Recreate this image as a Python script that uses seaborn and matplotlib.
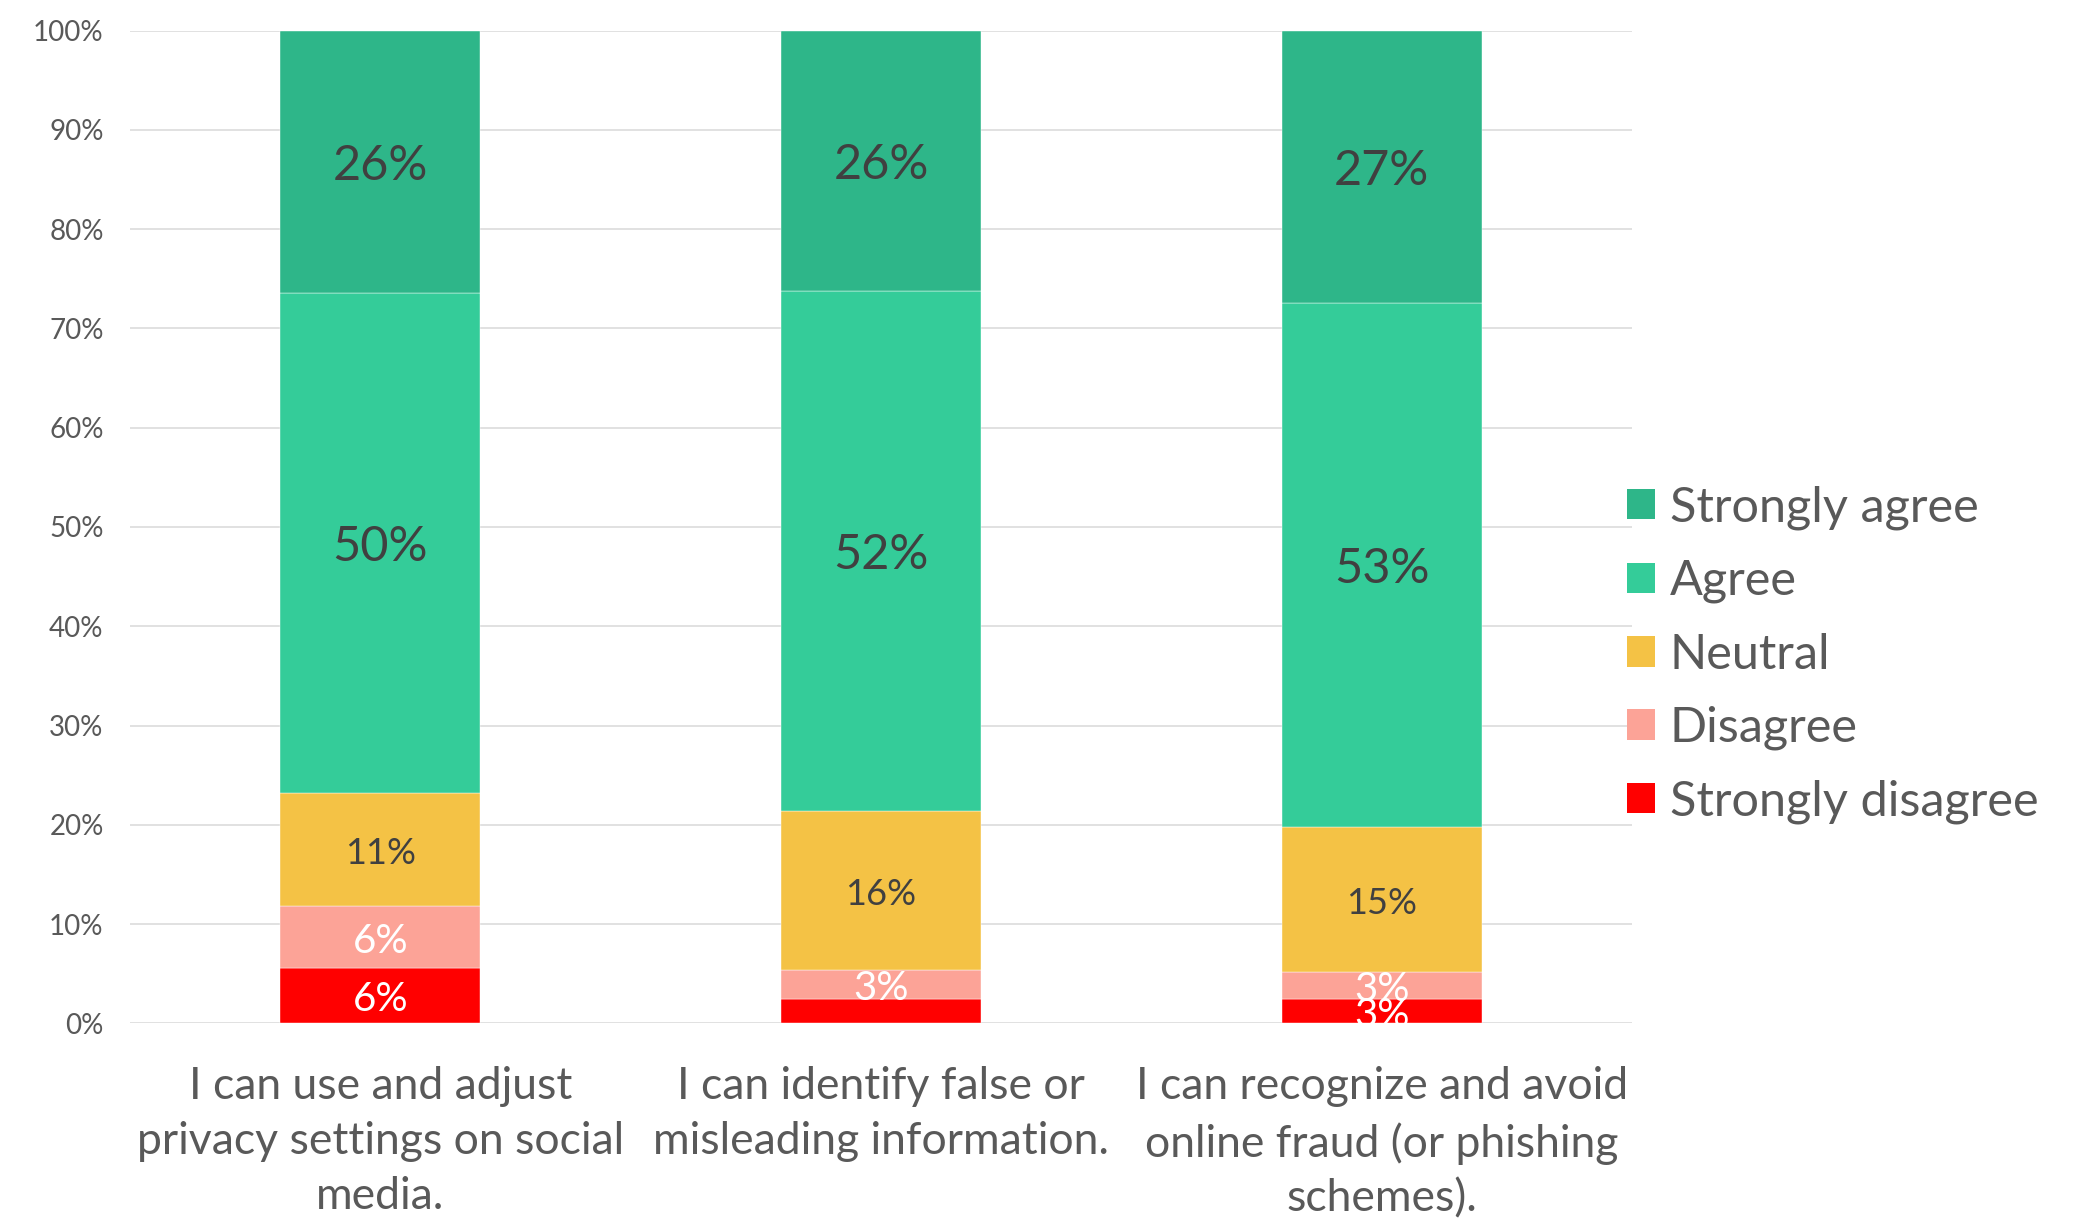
import matplotlib
matplotlib.use("Agg")
import matplotlib.pyplot as plt
import numpy as np
import pandas as pd
import seaborn as sns
from matplotlib.patches import Patch

# Survey statements (x categories)
statements = [
    "I can use and adjust\nprivacy settings on social\nmedia.",
    "I can identify false or\nmisleading information.",
    "I can recognize and avoid\nonline fraud (or phishing\nschemes).",
]

# Share of respondents per answer level (%), stacked bottom to top
levels = ["Strongly disagree", "Disagree", "Neutral", "Agree", "Strongly agree"]
strongly_disagree = [5.6, 2.5, 2.5]
disagree = [6.2, 2.9, 2.7]
neutral = [11.4, 16.0, 14.6]
agree = [50.4, 52.4, 52.8]
strongly_agree = [26.4, 26.2, 27.4]

# Value labels left off the chart: (level, statement index)
unlabelled = [("Strongly disagree", 1)]

y_ticks = list(range(0, 101, 10))
y_tick_labels = [f"{t}%" for t in y_ticks]

series = {
    "Strongly disagree": strongly_disagree,
    "Disagree": disagree,
    "Neutral": neutral,
    "Agree": agree,
    "Strongly agree": strongly_agree,
}
colors = {
    "Strongly disagree": "#FF0000",
    "Disagree": "#FCA397",
    "Neutral": "#F4C245",
    "Agree": "#34CC99",
    "Strongly agree": "#2EB689",
}
label_style = {
    "Strongly disagree": dict(color="white", fontsize=29),
    "Disagree": dict(color="white", fontsize=29),
    "Neutral": dict(color="#404040", fontsize=26),
    "Agree": dict(color="#404040", fontsize=35),
    "Strongly agree": dict(color="#404040", fontsize=35),
}

sns.set_theme(style="white")
plt.rcParams["font.family"] = ["Lato", "DejaVu Sans"]

fig = plt.figure(figsize=(20.84, 12.19), dpi=100)
ax = fig.add_axes([0.0624, 0.1605, 0.7207, 0.8144])

bottoms = np.zeros(len(statements))
for level in levels:
    values = np.array(series[level], dtype=float)
    frame = pd.DataFrame({"statement": statements, "share": values})
    sns.barplot(
        data=frame, x="statement", y="share", order=statements,
        color=colors[level], saturation=1, width=0.4, errorbar=None,
        bottom=bottoms, edgecolor="white", linewidth=0.3, ax=ax,
    )
    labels = [
        "" if (level, i) in unlabelled else f"{int(v + 0.5)}%"
        for i, v in enumerate(values)
    ]
    anns = ax.bar_label(ax.containers[-1], labels=labels, label_type="center",
                        **label_style[level])
    for ann in anns:
        ann.xyann = (0, -3)
    bottoms = bottoms + values

ax.set_xlim(-0.5, 2.5)
ax.set_ylim(0, 100)
ax.set_yticks(y_ticks)
ax.set_yticklabels(y_tick_labels)
ax.set_xlabel("")
ax.set_ylabel("")
ax.yaxis.grid(True, color="#D9D9D9", linewidth=1.1)
ax.set_axisbelow(True)
for spine in ax.spines.values():
    spine.set_visible(False)
ax.tick_params(axis="y", length=0, pad=19, labelsize=20, labelcolor="#595959")
ax.tick_params(axis="x", length=0, pad=31, labelsize=32, labelcolor="#595959")
for lbl in ax.get_xticklabels():
    lbl.set_multialignment("center")
    lbl.set_linespacing(1.42)

handles = [Patch(facecolor=colors[l], edgecolor="none") for l in reversed(levels)]
leg = fig.legend(
    handles, list(reversed(levels)), loc="center left",
    bbox_to_anchor=(0.7807, 0.463), frameon=False, fontsize=35,
    handlelength=0.58, handleheight=0.58, handletextpad=0.3,
    labelspacing=0.6, borderpad=0, borderaxespad=0,
)
for t in leg.get_texts():
    t.set_color("#595959")

fig.savefig("out.png", dpi=100)
